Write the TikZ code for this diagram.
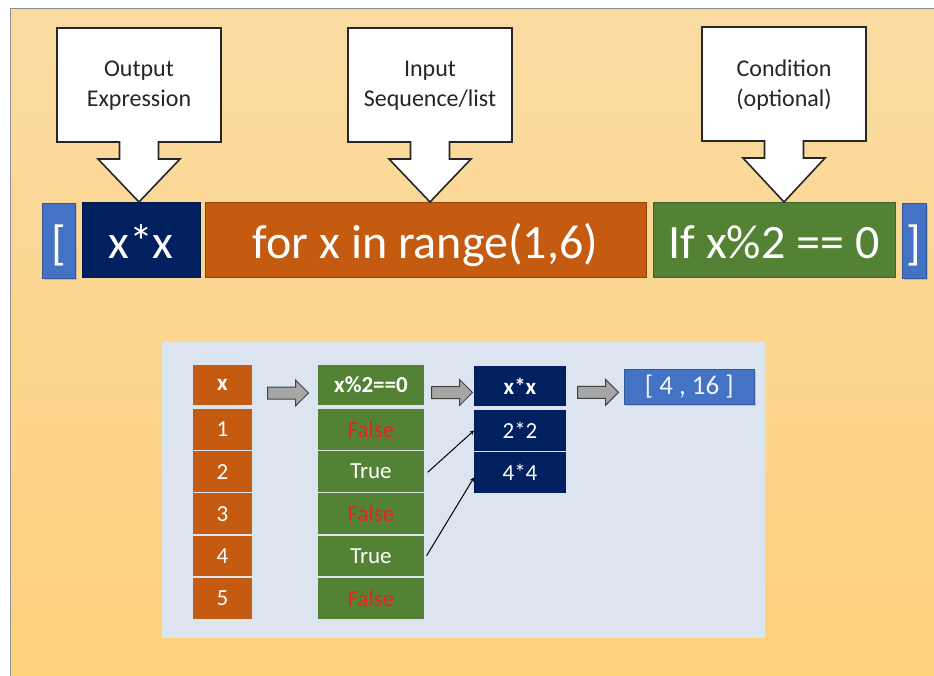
\documentclass[tikz,border=0pt]{standalone}
\usepackage{fontspec}
\setmainfont{Carlito}
\usetikzlibrary{calc,shapes.arrows,shadows}

\definecolor{slidetop}{HTML}{F9DBA3}
\definecolor{slidebot}{HTML}{FFD17B}
\definecolor{pyblue}{HTML}{4472C4}
\definecolor{pynavy}{HTML}{002060}
\definecolor{pyorange}{HTML}{C55A11}
\definecolor{pygreen}{HTML}{548235}
\definecolor{panelbg}{HTML}{DCE4F0}
\definecolor{falsered}{HTML}{E8231B}
\definecolor{arrowgray}{HTML}{A6A6A6}

\begin{document}
\begin{tikzpicture}[
      x=1pt,y=-1pt,
      >=stealth,
      bar/.style={
        anchor=north west,
        inner sep=0pt,
        outer sep=0pt,
        minimum height=75pt,
        text height=56pt,
        text depth=19pt,
        text=white,
        font=\fontsize{48}{56}\selectfont,
        fill=#1,
        draw=#1!75!black,
        line width=0.6pt
      },
      bracket/.style={
        bar=pyblue,
        drop shadow={shadow xshift=1.5pt,shadow yshift=-2pt,opacity=0.35}
      },
      callout/.style={
        fill=white,
        draw=black!85,
        line width=1.6pt,
        line join=miter
      },
      calltext/.style={
        align=center,
        text=black!85,
        font=\fontsize{24}{30}\selectfont
      },
      cell/.style={
        anchor=north west,
        inner sep=0pt,
        outer sep=0pt,
        minimum height=40.8pt,
        text=white,
        font=\fontsize{23}{26}\selectfont,
        fill=#1
      },
      head/.style={
        cell=#1,
        minimum height=40pt,
        font=\fontsize{23}{26}\selectfont\bfseries
      },
      blockarrow/.style={
        single arrow,
        fill=arrowgray,
        draw=black!75,
        line width=1pt,
        minimum height=41pt,
        inner xsep=0pt,
        inner ysep=5.5pt,
        single arrow head extend=7pt
      },
      link/.style={
        ->,
        line width=1pt,
        shorten <=5pt
      }
    ]
      \useasboundingbox (0,0) rectangle (934,675);

      % slide
      \fill[white] (-5,-5) rectangle (940,682);
      \fill[slidebot] (10,8) rectangle (940,682);
      \shade[top color=slidetop,bottom color=slidebot] (10,8) rectangle (940,682);
      \draw[black!45,line width=1pt] (940,8) -- (10,8) -- (10,682);

      % comprehension bar
      \node[bracket,minimum width=33pt,minimum height=74pt] (lb) at (42,203) {[};
      \node[bar=pynavy,minimum width=118pt] (xx) at (82,202) {x*x};
      \node[bar=pyorange,minimum width=441pt] (rng) at (205,202) {for x in range(1,6)};
      \node[bar=pygreen,minimum width=242pt] (cond) at (653,202) {If x\%2 == 0};
      \node[bracket,minimum width=24pt,minimum height=74pt] (rb) at (902,203) {]};

      % callouts
      \foreach \cx/\cy/\t/\lbl in {139/28/xx/{Output\\Expression},
                                   430/28/rng/{Input\\Sequence/list},
                                   784/27/cond/{Condition\\(optional)}}
      {
        \draw[callout] (\cx-82,\cy) -- (\cx+82,\cy) -- (\cx+82,\cy+114)
          -- (\cx+19.5,\cy+114) -- (\cx+19.5,\cy+131) -- (\cx+41,\cy+131)
          -- (\cx,0 |- \t.north) -- (\cx-41,\cy+131) -- (\cx-19.5,\cy+131)
          -- (\cx-19.5,\cy+114) -- (\cx-82,\cy+114) -- cycle;
        \node[calltext] (c\t) at (\cx,\cy+58) {\lbl};
      }

      % worked example
      \fill[panelbg] (162,342) rectangle (765,638);

      \node[head=pyorange,minimum width=59pt] (xh) at (193,365) {x};
      \node[head=pygreen,minimum width=106pt] (gh) at (318,365) {x\%2==0};
      \node[head=pynavy,minimum width=92pt] (nh) at (474,366) {x*x};

      \foreach \i in {1,...,5}
        \node[cell=pyorange,minimum width=59pt] (x\i) at (193,{409+42.2*(\i-1)}) {\i};

      \foreach \i/\v/\c in {1/False/falsered,2/True/white,3/False/falsered,4/True/white,5/False/falsered}
        \node[cell=pygreen,minimum width=106pt,text=\c] (g\i) at (318,{409+42.2*(\i-1)}) {\v};

      \node[cell=pynavy,minimum width=92pt,minimum height=41pt] (n1) at (474,410) {2*2};
      \node[cell=pynavy,minimum width=92pt,minimum height=41pt] (n2) at (474,452) {4*4};

      \node[anchor=north west,inner sep=0pt,minimum width=130pt,minimum height=35pt,
            fill=pyblue,draw=pyblue!80!black,line width=0.5pt,text=white!92!pyblue,
            font=\fontsize{27}{30}\selectfont,
            drop shadow={shadow xshift=1.5pt,shadow yshift=-2pt,opacity=0.35}]
            (res) at (624,369) {[ 4 , 16 ]};

      \node[blockarrow] (a1) at ($(xh.east)!0.5!(gh.west)+(0,8)$) {};
      \node[blockarrow] (a2) at ($(gh.east)!0.5!(nh.west)+(0,7)$) {};
      \node[blockarrow] (a3) at ($(nh.east)!0.5!(res.west)+(0,6)$) {};

      \draw[link] ($(g2.east)+(0,4)$) -- (n1.west);
      \draw[link] ($(g4.east)+(0,4)$) -- ($(n2.west)+(0,5)$);
    \end{tikzpicture}
\end{document}
